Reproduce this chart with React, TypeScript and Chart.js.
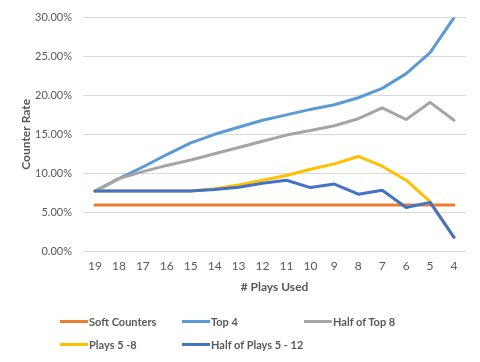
import React, { useEffect, useRef } from "react";
import { Chart, registerables } from "chart.js";

Chart.register(...registerables);

const categories = ["19", "18", "17", "16", "15", "14", "13", "12", "11", "10", "9", "8", "7", "6", "5", "4"];

const softCounters = [5.9, 5.9, 5.9, 5.9, 5.9, 5.9, 5.9, 5.9, 5.9, 5.9, 5.9, 5.9, 5.9, 5.9, 5.9, 5.9];
const top4 = [7.7, 9.3, 10.8, 12.4, 13.9, 15.0, 15.9, 16.8, 17.5, 18.2, 18.8, 19.7, 20.9, 22.8, 25.5, 30.0];
const halfOfTop8 = [7.7, 9.3, 10.2, 11.0, 11.7, 12.5, 13.3, 14.1, 14.9, 15.5, 16.1, 17.0, 18.4, 16.9, 19.1, 16.8];
const plays5to8 = [7.7, 7.7, 7.7, 7.7, 7.7, 8.0, 8.5, 9.1, 9.7, 10.5, 11.2, 12.15, 10.9, 9.1, 6.35, 1.75];
const halfOfPlays5to12 = [7.7, 7.7, 7.7, 7.7, 7.7, 7.9, 8.2, 8.7, 9.1, 8.15, 8.6, 7.3, 7.8, 5.6, 6.25, 1.75];

const seriesNames = ["Soft Counters", "Top 4", "Half of Top 8", "Plays 5 -8", "Half of Plays 5 - 12"];
const seriesColors = ["#ED7D31", "#5B9BD5", "#A5A5A5", "#FFC000", "#4472C4"];
const seriesData = [softCounters, top4, halfOfTop8, plays5to8, halfOfPlays5to12];

const yTicks = [0, 5, 10, 15, 20, 25, 30];

const FONT = "Lato, 'Liberation Sans', Arial, sans-serif";
const TEXT = "#595959";

// legend grid placement (columns / rows)
const legendCols = [60, 182, 304];
const legendRows = [321, 344];

export default function App() {
  const canvasRef = useRef<HTMLCanvasElement | null>(null);

  useEffect(() => {
    if (!canvasRef.current) return;
    const chart = new Chart(canvasRef.current, {
      type: "line",
      data: {
        labels: categories,
        datasets: seriesData.map((d, i) => ({
          label: seriesNames[i],
          data: d,
          borderColor: seriesColors[i],
          backgroundColor: seriesColors[i],
          borderWidth: 3,
          pointRadius: 0,
          tension: 0,
          fill: false,
          borderCapStyle: "round" as const,
          borderJoinStyle: "round" as const,
          order: seriesData.length - 1 - i,
        })),
      },
      options: {
        animation: false,
        responsive: false,
        maintainAspectRatio: false,
        layout: { padding: { left: 0, right: 14, top: 14, bottom: 61 } },
        plugins: {
          legend: { display: false },
          tooltip: { enabled: false },
        },
        scales: {
          x: {
            offset: true,
            grid: { display: false, drawTicks: false },
            border: { display: false },
            ticks: {
              color: TEXT,
              font: { family: FONT, size: 12 },
              padding: 8,
              maxRotation: 0,
              autoSkip: false,
            },
            title: {
              display: true,
              text: "# Plays Used",
              color: TEXT,
              font: { family: FONT, size: 12, weight: "bold" },
              padding: { top: 4, bottom: 7 },
            },
            afterFit: (s: any) => {
              s.height = 50;
            },
          },
          y: {
            min: 0,
            max: 30,
            afterBuildTicks: (s: any) => {
              s.ticks = yTicks.map((v) => ({ value: v }));
            },
            grid: { color: "#D9D9D9", drawTicks: false, lineWidth: 1 },
            border: { display: false },
            ticks: {
              color: TEXT,
              font: { family: FONT, size: 11 },
              padding: 11,
              callback: (v: any) => Number(v).toFixed(2) + "%",
            },
            title: {
              display: true,
              text: "Counter Rate",
              color: TEXT,
              font: { family: FONT, size: 12, weight: "bold" },
              padding: { top: 19, bottom: 0 },
            },
            afterFit: (s: any) => {
              s.width = 83;
            },
          },
        },
      },
    });
    return () => chart.destroy();
  }, []);

  return (
    <div style={{ position: "fixed", left: 0, top: 0, width: 480, height: 362, background: "#fff" }}>
      <canvas ref={canvasRef} width={480} height={362} style={{ display: "block" }} />
      {seriesNames.map((name, i) => {
        const col = legendCols[i % 3];
        const row = legendRows[Math.floor(i / 3)];
        return (
          <div
            key={name}
            style={{
              position: "absolute",
              left: col,
              top: row - 8,
              height: 16,
              display: "flex",
              alignItems: "center",
              whiteSpace: "nowrap",
              fontFamily: FONT,
              fontSize: 11,
              fontWeight: "bold",
              color: TEXT,
            }}
          >
            <span style={{ display: "inline-block", width: 28, height: 3, background: seriesColors[i], marginRight: 1 }} />
            <span>{name}</span>
          </div>
        );
      })}
    </div>
  );
}
